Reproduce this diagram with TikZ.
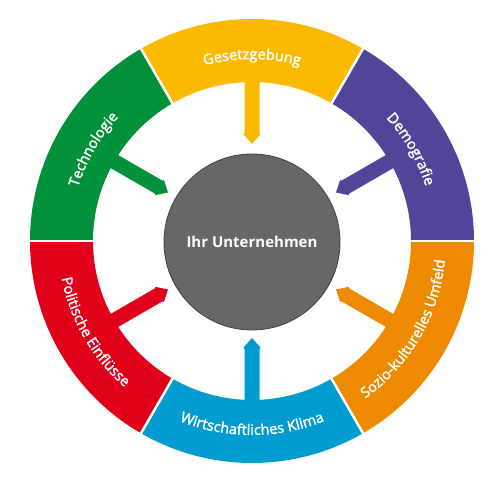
\documentclass[tikz,border=0pt]{standalone}
\usepackage{fontspec}
\setmainfont{Open Sans}
\newfontfamily\ringfont{Open Sans}[FakeBold=2]
\usepackage{xcolor}
\usepackage{tikz}
\usetikzlibrary{decorations.text}
\definecolor{gesetzgelb}{HTML}{FBBA00}
\definecolor{demolila}{HTML}{51459A}
\definecolor{soziorange}{HTML}{EE8A00}
\definecolor{klimablau}{HTML}{009BCF}
\definecolor{politrot}{HTML}{E1001A}
\definecolor{technogruen}{HTML}{00913A}
\definecolor{kerngrau}{HTML}{676767}

\begin{document}
\begin{tikzpicture}[x=1pt, y=1pt,
  core/.style={circle, draw=black!75, line width=0.8pt, fill=kerngrau, minimum size=176pt, inner sep=0pt, text=white, font=\fontsize{15}{18}\selectfont\bfseries},
  gap/.style={white, line width=2.5pt},
  ringtext/.style={decorate, decoration={text along path, text align=center, text={|\ringfont\fontsize{14.5}{16}\selectfont\color{white}|#1}}}
]
\useasboundingbox (-252,-245) rectangle (248,241);

% ring segments with pointers
\foreach \a/\col [evaluate=\a as \b using \a+60, evaluate=\a as \m using \a+30] in
  {0/demolila, 60/gesetzgelb, 120/technogruen, 180/politrot, 240/klimablau, 300/soziorange} {
  \fill[\col] (\a:222) arc[start angle=\a, end angle=\b, radius=222]
    -- (\b:159) arc[start angle=\b, end angle=\a, radius=159] -- cycle;
  \begin{scope}[rotate=\m]
    \fill[\col] (165,-7.5) -- (108,-7.5) -- (106.5,-8.5) -- (97,0) -- (106.5,8.5) -- (108,7.5) -- (165,7.5) -- cycle;
  \end{scope}
}
\foreach \a in {0,60,...,300} {
  \draw[gap] (\a:155) -- (\a:226);
}

% labels along the ring
\path[ringtext={Demografie}] (60:182) arc[start angle=60, end angle=0, radius=182];
\path[ringtext={Gesetzgebung}] (120:182) arc[start angle=120, end angle=60, radius=182];
\path[ringtext={Technologie}] (180:182) arc[start angle=180, end angle=120, radius=182];
\path[ringtext={Politische Einflüsse}] (180:194) arc[start angle=180, end angle=240, radius=194];
\path[ringtext={Wirtschaftliches Klima}] (240:194) arc[start angle=240, end angle=300, radius=194];
\path[ringtext={Sozio-kulturelles Umfeld}] (300:194) arc[start angle=300, end angle=360, radius=194];

\node[core] (firma) at (0,-1) {Ihr Unternehmen};
\end{tikzpicture}
\end{document}
